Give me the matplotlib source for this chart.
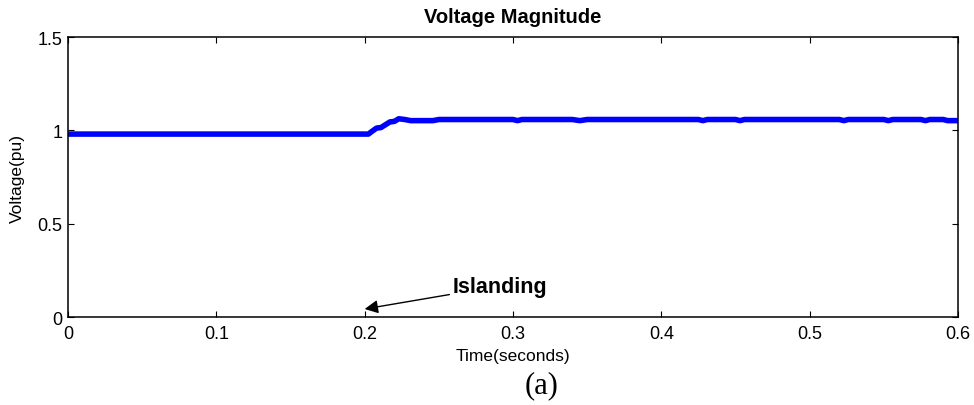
import numpy as np
import matplotlib.pyplot as plt

plt.rcParams['font.family'] = ['Liberation Sans', 'DejaVu Sans']

# Voltage magnitude readings (pu) vs time (s)
time_s = [0.0, 0.1, 0.2, 0.2025, 0.205, 0.208, 0.211, 0.214, 0.217, 0.220, 0.223,
          0.227, 0.231, 0.240, 0.246, 0.250, 0.280, 0.300, 0.303, 0.306, 0.320,
          0.340, 0.345, 0.350, 0.380, 0.400, 0.425, 0.428, 0.431, 0.450, 0.453,
          0.456, 0.480, 0.500, 0.520, 0.523, 0.526, 0.550, 0.553, 0.556, 0.575,
          0.578, 0.581, 0.590, 0.593, 0.600]
voltage_pu = [0.98, 0.98, 0.98, 0.98, 0.995, 1.012, 1.015, 1.03, 1.045, 1.048, 1.062,
              1.058, 1.052, 1.052, 1.052, 1.058, 1.058, 1.058, 1.052, 1.058, 1.058,
              1.058, 1.052, 1.058, 1.058, 1.058, 1.058, 1.052, 1.058, 1.058, 1.052,
              1.058, 1.058, 1.058, 1.058, 1.052, 1.058, 1.058, 1.052, 1.058, 1.058,
              1.052, 1.058, 1.058, 1.052, 1.052]

x_ticks = [0, 0.1, 0.2, 0.3, 0.4, 0.5, 0.6]
x_tick_labels = ['0', '0.1', '0.2', '0.3', '0.4', '0.5', '0.6']
y_ticks = [0, 0.5, 1, 1.5]
y_tick_labels = ['0', '0.5', '1', '1.5']

fig = plt.figure(figsize=(9.74, 4.06), dpi=100)
ax = fig.add_axes([0.0698, 0.2167, 0.9138, 0.6897])

ax.plot(time_s, voltage_pu, color=(0, 0, 1), linewidth=4, solid_capstyle='round')

ax.set_xlim(0, 0.6)
ax.set_ylim(0, 1.5)
ax.set_xticks(x_ticks)
ax.set_xticklabels(x_tick_labels)
ax.set_yticks(y_ticks)
ax.set_yticklabels(y_tick_labels)
ax.tick_params(direction='in', top=True, right=True, labelsize=13, length=4, width=0.8)
ax.tick_params(axis='x', pad=6)
ax.tick_params(axis='y', pad=4)
for sp in ax.spines.values():
    sp.set_linewidth(1.1)

ax.set_title('Voltage Magnitude', fontsize=14.5, fontweight='bold', pad=11)
ax.set_xlabel('Time(seconds)', fontsize=12.5, labelpad=4)
ax.set_ylabel('Voltage(pu)', fontsize=12.5, labelpad=9)

ax.annotate('Islanding', xy=(0.2, 0.043), xytext=(0.259, 0.166),
            fontsize=15.5, fontweight='bold', va='center', ha='left',
            arrowprops=dict(arrowstyle='-|>', color='black', lw=1.0,
                            shrinkA=0, shrinkB=0, mutation_scale=20))

fig.text(0.556, 0.049, '(a)', ha='center', va='center', fontsize=22,
         family=['Liberation Serif', 'DejaVu Serif'])

fig.savefig('out.png', dpi=100)
